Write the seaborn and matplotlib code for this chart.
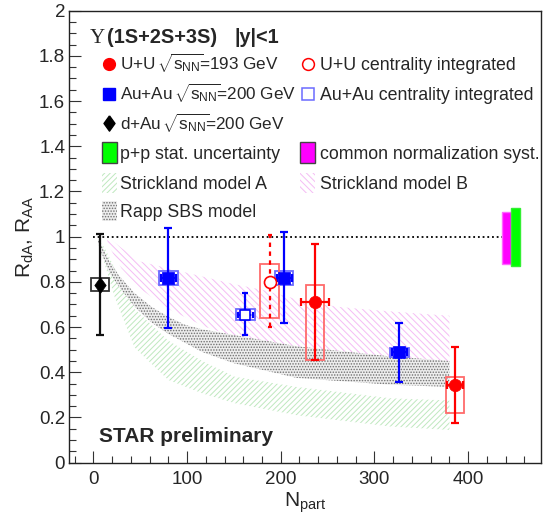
import numpy as np
import matplotlib
matplotlib.use("Agg")
import matplotlib.pyplot as plt
from matplotlib.patches import Rectangle
import seaborn as sns

# ---- data ----
# U+U 193 GeV, centrality bins
uu_npart = [236.6, 386.0]
uu_raa = [0.713, 0.343]
uu_stat_lo = [0.455, 0.175]
uu_stat_hi = [0.969, 0.514]
uu_sys_lo = [0.454, 0.220]
uu_sys_hi = [0.787, 0.378]
uu_nerr = [14.5, 8.5]

# Au+Au 200 GeV, centrality bins
aa_npart = [80.0, 203.5, 326.6]
aa_raa = [0.817, 0.817, 0.489]
aa_stat_lo = [0.596, 0.616, 0.356]
aa_stat_hi = [1.040, 1.019, 0.616]
aa_sys_lo = [0.786, 0.786, 0.467]
aa_sys_hi = [0.847, 0.847, 0.509]
aa_nerr = [8.0, 8.0, 8.0]

# centrality integrated
uu_int = dict(npart=188.3, raa=0.801, lo=0.602, hi=1.006, slo=0.642, shi=0.878)
aa_int = dict(npart=162.0, raa=0.655, lo=0.566, hi=0.750, slo=0.633, shi=0.681, nerr=8.0)

# d+Au 200 GeV
da_npart = [7.2]
da_raa = [0.788]
da_stat_lo = [0.566]
da_stat_hi = [1.010]
da_sys_lo = [0.758]
da_sys_hi = [0.817]

box_half = 10.0

# global uncertainties at R=1
norm_syst = [0.880, 1.108]
pp_stat = [0.869, 1.125]

# model bands
sa_n = [5, 12, 23, 44, 80, 116, 151, 217, 317, 380]
sa_hi = [0.99, 0.95, 0.86, 0.68, 0.54, 0.45, 0.38, 0.335, 0.285, 0.275]
sa_lo = [0.97, 0.88, 0.73, 0.51, 0.366, 0.307, 0.263, 0.21, 0.16, 0.145]

sb_n = [15, 30, 50, 80, 120, 150, 180, 220, 260, 300, 340, 380]
sb_hi = [1.0, 0.95, 0.89, 0.86, 0.82, 0.79, 0.765, 0.72, 0.69, 0.675, 0.662, 0.65]
sb_lo = [0.97, 0.86, 0.77, 0.68, 0.60, 0.56, 0.53, 0.50, 0.48, 0.46, 0.45, 0.44]

rapp_n = [5, 16, 27, 44, 62, 80, 98, 116, 150, 217, 317, 380]
rapp_hi = [0.99, 0.90, 0.83, 0.75, 0.69, 0.645, 0.61, 0.59, 0.565, 0.515, 0.47, 0.45]
rapp_lo = [0.97, 0.85, 0.78, 0.69, 0.62, 0.57, 0.53, 0.49, 0.44, 0.375, 0.345, 0.335]

# ---- style ----
sns.set_style("ticks")
plt.rcParams['font.family'] = ['Liberation Sans', 'DejaVu Sans']
plt.rcParams['mathtext.fontset'] = 'custom'
plt.rcParams['mathtext.rm'] = 'Liberation Sans'
plt.rcParams['mathtext.it'] = 'Liberation Sans:italic'
plt.rcParams['mathtext.bf'] = 'Liberation Sans:bold'
plt.rcParams['hatch.linewidth'] = 0.7

RED = '#ff0000'
BLUE = '#0000ff'
RED_BOX = '#ff6b6b'
BLUE_BOX = '#6b6bff'
GREEN_H = '#bfe8bf'
MAG_H = '#f4bcf4'
GRAY_F = '#ededed'
GRAY_D = '#707070'

fig = plt.figure(figsize=(5.46, 5.15), dpi=100)
ax = fig.add_axes([0.127, 0.1016, 0.864, 0.8777])
ax.set_xlim(-25.6, 477.8)
ax.set_ylim(0, 2)

# model bands
ax.fill_between(sa_n, sa_lo, sa_hi, facecolor='none', edgecolor=GREEN_H,
                hatch='//////', linewidth=0, zorder=1)
ax.fill_between(sb_n, sb_lo, sb_hi, facecolor='none', edgecolor=MAG_H,
                hatch='\\\\\\\\\\', linewidth=0, zorder=1)
ax.fill_between(rapp_n, rapp_lo, rapp_hi, facecolor=GRAY_F, edgecolor=GRAY_D,
                hatch='......', linewidth=0, zorder=2)

# unity line
ax.hlines(1, 0, 436, colors='k', linestyles=(0, (1, 1.6)), lw=1.3, zorder=3)

# global boxes
ax.add_patch(Rectangle((436, norm_syst[0]), 10, norm_syst[1] - norm_syst[0],
                       facecolor='#ff00ff', edgecolor='#ff66ff', lw=1, zorder=4))
ax.add_patch(Rectangle((446, pp_stat[0]), 9.6, pp_stat[1] - pp_stat[0],
                       facecolor='#00ff00', edgecolor='#33ee33', lw=1, zorder=4))


def sys_boxes(xs, lo, hi, color, lw=1.3):
    for x, l, h in zip(xs, lo, hi):
        ax.add_patch(Rectangle((x - box_half, l), 2 * box_half, h - l,
                               facecolor='none', edgecolor=color, lw=lw, zorder=5))


sys_boxes(da_npart, da_sys_lo, da_sys_hi, '#333333')
sys_boxes(aa_npart, aa_sys_lo, aa_sys_hi, BLUE_BOX)
sys_boxes(uu_npart, uu_sys_lo, uu_sys_hi, RED_BOX)
sys_boxes([aa_int['npart']], [aa_int['slo']], [aa_int['shi']], BLUE_BOX)
sys_boxes([uu_int['npart']], [uu_int['slo']], [uu_int['shi']], RED_BOX)

# statistical errors
def yerr(v, lo, hi):
    v = np.array(v)
    return [v - np.array(lo), np.array(hi) - v]

ax.errorbar(da_npart, da_raa, yerr=yerr(da_raa, da_stat_lo, da_stat_hi), fmt='none',
            ecolor='#111111', elinewidth=1.6, capsize=3, capthick=1.6, zorder=6)
ax.errorbar(aa_npart, aa_raa, yerr=yerr(aa_raa, aa_stat_lo, aa_stat_hi), xerr=aa_nerr,
            fmt='none', ecolor=BLUE, elinewidth=1.6, capsize=3, capthick=1.6, zorder=6)
ax.errorbar(uu_npart, uu_raa, yerr=yerr(uu_raa, uu_stat_lo, uu_stat_hi), xerr=uu_nerr,
            fmt='none', ecolor=RED, elinewidth=1.6, capsize=3, capthick=1.6, zorder=6)
eb = ax.errorbar([aa_int['npart']], [aa_int['raa']],
                 yerr=yerr([aa_int['raa']], [aa_int['lo']], [aa_int['hi']]),
                 xerr=aa_int['nerr'], fmt='none', ecolor=BLUE, elinewidth=1.6,
                 capsize=2, capthick=1.6, zorder=6)
eb[2][0].set_linestyle((0, (2, 2)))
eb = ax.errorbar([uu_int['npart']], [uu_int['raa']],
                 yerr=yerr([uu_int['raa']], [uu_int['lo']], [uu_int['hi']]),
                 fmt='none', ecolor=RED, elinewidth=1.6, capsize=1.5, capthick=1.6, zorder=6)
eb[2][0].set_linestyle((0, (2, 2)))

# markers
diamond = [(0, 1), (0.72, 0), (0, -1), (-0.72, 0), (0, 1)]
sns.scatterplot(x=da_npart, y=da_raa, marker=diamond, s=130, color='k',
                edgecolor='k', linewidth=0.5, ax=ax, zorder=7)
sns.scatterplot(x=aa_npart, y=aa_raa, marker='s', s=75, color=BLUE,
                edgecolor=BLUE, linewidth=0.5, ax=ax, zorder=7)
sns.scatterplot(x=uu_npart, y=uu_raa, marker='o', s=80, color=RED,
                edgecolor=RED, linewidth=0.5, ax=ax, zorder=7)
ax.scatter([aa_int['npart']], [aa_int['raa']], marker='s', s=60, facecolor='white',
           edgecolor=BLUE, linewidth=1.2, zorder=7)
ax.scatter([uu_int['npart']], [uu_int['raa']], marker='o', s=75, facecolor='white',
           edgecolor=RED, linewidth=1.2, zorder=7)

# ---- legend, drawn by hand in the ROOT layout ----
fs = 12.8
fs_sq = 12.3
ax.text(-3.5, 1.856, '\u03a5', family=['Liberation Serif', 'DejaVu Serif'],
        fontsize=15, va='baseline', ha='left')
ax.text(14.3, 1.856, '(1S+2S+3S)', fontsize=14.3, fontweight='bold', va='baseline')
ax.text(151, 1.856, '|y|<1', fontsize=14.3, fontweight='bold', va='baseline')

rows = [1.765, 1.633, 1.501, 1.373, 1.239, 1.115]
c1m, c1t = 17.1, 28.5
c2m, c2t = 229.5, 242.0
off = 0.029
sq = r'$\,\sqrt{\mathrm{s}_{\mathrm{NN}}}\!$'

ax.plot([c1m], [rows[0]], 'o', color=RED, ms=8.5, clip_on=False)
ax.text(c1t, rows[0] - off, 'U+U' + sq + '=193 GeV', fontsize=fs_sq, va='baseline')
ax.plot([c2m], [rows[0]], 'o', mfc='white', mec=RED, mew=1.1, ms=8.5)
ax.text(c2t, rows[0] - off, 'U+U centrality integrated', fontsize=fs, va='baseline')

ax.plot([c1m], [rows[1]], 's', color=BLUE, ms=8)
ax.text(c1t, rows[1] - off, 'Au+Au' + sq + '=200 GeV', fontsize=fs_sq, va='baseline')
ax.plot([c2m], [rows[1]], 's', mfc='white', mec=BLUE_BOX, mew=1.1, ms=8)
ax.text(c2t, rows[1] - off, 'Au+Au centrality integrated', fontsize=fs, va='baseline')

ax.plot([c1m], [rows[2]], marker=diamond, color='k', ms=11)
ax.text(c1t, rows[2] - off, 'd+Au' + sq + '=200 GeV', fontsize=fs_sq, va='baseline')

sw_w, sw_h = 16.0, 0.096
ax.add_patch(Rectangle((c1m - sw_w / 2, rows[3] - sw_h / 2), sw_w, sw_h,
                       facecolor='#00ff00', edgecolor='#444444', lw=1))
ax.text(c1t, rows[3] - off, 'p+p stat. uncertainty', fontsize=fs, va='baseline')
ax.add_patch(Rectangle((c2m - sw_w / 2 - 1, rows[3] - sw_h / 2), sw_w, sw_h,
                       facecolor='#ff00ff', edgecolor='#444444', lw=1))
ax.text(c2t, rows[3] - off, 'common normalization syst.', fontsize=fs, va='baseline')

sw_h2 = 0.088
ax.add_patch(Rectangle((c1m - sw_w / 2, rows[4] - sw_h2 / 2), sw_w, sw_h2,
                       facecolor='none', edgecolor=GREEN_H, hatch='//////', lw=0))
ax.text(c1t, rows[4] - off, 'Strickland model A', fontsize=fs, va='baseline')
ax.add_patch(Rectangle((c2m - sw_w / 2 - 1, rows[4] - sw_h2 / 2), sw_w, sw_h2,
                       facecolor='none', edgecolor=MAG_H, hatch='\\\\\\\\\\', lw=0))
ax.text(c2t, rows[4] - off, 'Strickland model B', fontsize=fs, va='baseline')

ax.add_patch(Rectangle((c1m - sw_w / 2, rows[5] - sw_h2 / 2), sw_w, sw_h2,
                       facecolor=GRAY_F, edgecolor=GRAY_D, hatch='......', lw=0))
ax.text(c1t, rows[5] - off, 'Rapp SBS model', fontsize=fs, va='baseline')

ax.text(6.4, 0.093, 'STAR preliminary', fontsize=15, fontweight='bold', va='baseline')

# ---- axes ----
ax.set_xticks([0, 100, 200, 300, 400])
ax.set_xticks(np.arange(-20, 478, 20), minor=True)
ax.set_yticks(np.arange(0, 2.01, 0.2))
ax.set_yticks(np.arange(0, 2.01, 0.05), minor=True)
ax.set_yticklabels(['0', '0.2', '0.4', '0.6', '0.8', '1', '1.2', '1.4', '1.6', '1.8', '2'])
ax.tick_params(axis='both', which='major', direction='in', length=8.6, width=0.8,
               labelsize=13.5, color='#333333', top=False, right=False)
ax.tick_params(axis='both', which='minor', direction='in', length=4.8, width=0.8,
               color='#333333', top=False, right=False)
ax.tick_params(axis='x', which='major', pad=6)
ax.tick_params(axis='y', which='major', pad=3)
for sp in ax.spines.values():
    sp.set_visible(True)
    sp.set_linewidth(1.0)
    sp.set_color('#222222')

ax.set_xlabel(r'N$_{\mathrm{part}}$', fontsize=15, labelpad=2)
ax.set_ylabel(r'R$_{\mathrm{dA}}$, R$_{\mathrm{AA}}$', fontsize=15, labelpad=2)

fig.savefig('out.png', dpi=100)
